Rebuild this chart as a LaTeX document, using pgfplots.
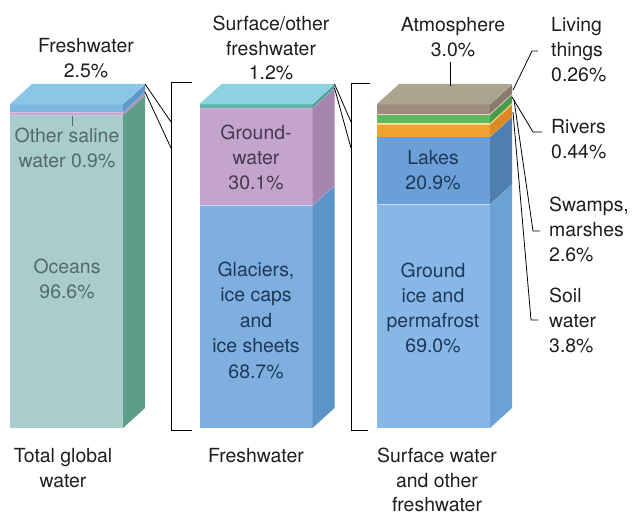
\documentclass[border=0pt]{standalone}
\usepackage{fontspec}
\setmainfont{TeX Gyre Heros}
\usepackage{pgfplots}
\pgfplotsset{compat=1.18}

% front / side colours of each layer
\definecolor{oceanF}{HTML}{A9CCCD}\definecolor{oceanS}{HTML}{5E9E88}
\definecolor{salineF}{HTML}{C9A8D4}\definecolor{salineS}{HTML}{A98DB8}
\definecolor{freshF}{HTML}{7AB6E0}\definecolor{freshS}{HTML}{5C9ACB}
\definecolor{top1}{HTML}{8CC6E6}
\definecolor{glacF}{HTML}{7EAFDF}\definecolor{glacS}{HTML}{5D94C8}
\definecolor{gwF}{HTML}{C3A4CD}\definecolor{gwS}{HTML}{A486B1}
\definecolor{surfF}{HTML}{5AB6AA}\definecolor{surfS}{HTML}{4A9F95}
\definecolor{top2}{HTML}{8DD2E2}
\definecolor{iceF}{HTML}{86B7E7}\definecolor{iceS}{HTML}{6AA2D8}
\definecolor{lakeF}{HTML}{6A9FD8}\definecolor{lakeS}{HTML}{4E7FAF}
\definecolor{soilF}{HTML}{EEA232}\definecolor{soilS}{HTML}{DE8A22}
\definecolor{rivF}{HTML}{F3EA70}\definecolor{rivS}{HTML}{D9CC52}
\definecolor{swampF}{HTML}{5DB85E}\definecolor{swampS}{HTML}{4A9A4B}
\definecolor{liveF}{HTML}{E2D4D2}\definecolor{liveS}{HTML}{C8B8B6}
\definecolor{atmoF}{HTML}{9E8C7E}\definecolor{atmoS}{HTML}{8B7A6C}
\definecolor{top3}{HTML}{ABA58F}
\definecolor{txt}{HTML}{1E1E1E}
\definecolor{txtOcean}{HTML}{55696B}
\definecolor{txtGw}{HTML}{46394F}
\definecolor{txtBlue}{HTML}{1E3858}

% geometry of the blocks (drawing units = px)
\newcommand\baseY{428}   % bottom of the front faces
\newcommand\unit{3.24}   % px per percent
\newcommand\barw{113}    % front width
\newcommand\dx{22}       % depth offset, x
\newcommand\dy{20}       % depth offset, y

\newcommand\startbar[1]{\gdef\cum{0}\gdef\barx{#1}}
% one stacked layer: value (percent), front colour, side colour
\newcommand\segment[3]{%
  \pgfmathsetmacro\ylo{\baseY-\unit*\cum}%
  \pgfmathsetmacro\newcum{\cum+#1}%
  \xdef\cum{\newcum}%
  \pgfmathsetmacro\yhi{\baseY-\unit*\cum}%
  \pgfmathsetmacro\xr{\barx+\barw}%
  \pgfmathsetmacro\xs{\xr+\dx}%
  \pgfmathsetmacro\ylob{\ylo-\dy}%
  \pgfmathsetmacro\yhib{\yhi-\dy}%
  \edef\tmp{%
    \noexpand\addplot[fill=#2,draw=none] coordinates {(\barx,\ylo) (\xr,\ylo) (\xr,\yhi) (\barx,\yhi)} -- cycle;
    \noexpand\addplot[fill=#3,draw=none] coordinates {(\xr,\ylo) (\xs,\ylob) (\xs,\yhib) (\xr,\yhi)} -- cycle;
    \noexpand\addplot[white,opacity=0.8,line width=0.4pt] coordinates {(\barx,\yhi) (\xr,\yhi) (\xs,\yhib)};
  }\tmp}
\newcommand\topface[1]{%
  \pgfmathsetmacro\yhi{\baseY-\unit*\cum}%
  \pgfmathsetmacro\yhib{\yhi-\dy}%
  \pgfmathsetmacro\xr{\barx+\barw}%
  \pgfmathsetmacro\xs{\xr+\dx}%
  \pgfmathsetmacro\xb{\barx+\dx}%
  \edef\tmp{%
    \noexpand\addplot[fill=#1,draw=none] coordinates {(\barx,\yhi) (\xr,\yhi) (\xs,\yhib) (\xb,\yhib)} -- cycle;
  }\tmp}

\tikzset{
  lab/.style={font=\fontsize{19.5}{24}\selectfont, inner sep=0pt, anchor=base, text=txt},
  labw/.style={lab, anchor=base west},
  lead/.style={black, line width=0.8pt},
}

\begin{document}
\begin{tikzpicture}
\begin{axis}[
  scale only axis, width=636bp, height=516bp,
  xmin=0, xmax=636, ymin=0, ymax=516, y dir=reverse,
  hide axis, clip=false,
]
\path (axis cs:0,0) (axis cs:636,516);

% Total global water
\startbar{10}
\segment{96.6}{oceanF}{oceanS}
\segment{0.9}{salineF}{salineS}
\segment{2.5}{freshF}{freshS}
\topface{top1}

% Freshwater
\startbar{199.5}
\segment{68.7}{glacF}{glacS}
\segment{30.1}{gwF}{gwS}
\segment{1.2}{surfF}{surfS}
\topface{top2}

% Surface water and other freshwater
\startbar{377}
\segment{69.0}{iceF}{iceS}
\segment{20.9}{lakeF}{lakeS}
\segment{3.8}{soilF}{soilS}
\segment{0.44}{rivF}{rivS}
\segment{2.6}{swampF}{swampS}
\segment{0.26}{liveF}{liveS}
\segment{3.0}{atmoF}{atmoS}
\topface{top3}

% brackets and connectors
\draw[lead] (axis cs:145,84) -- (axis cs:171,122);
\draw[lead] (axis cs:145,92) -- (axis cs:171,148);
\draw[lead,line width=1pt] (axis cs:192,82) -- (axis cs:171,82) -- (axis cs:171,430) -- (axis cs:192,430);
\draw[lead] (axis cs:334.5,84) -- (axis cs:351,122);
\draw[lead] (axis cs:334.5,88) -- (axis cs:351,148);
\draw[lead,line width=1pt] (axis cs:370,83) -- (axis cs:351,83) -- (axis cs:351,430) -- (axis cs:368,430);

% leader lines
\draw[lead] (axis cs:450,62) -- (axis cs:450,86);
\draw[lead] (axis cs:538,51) -- (axis cs:532,51) -- (axis cs:513,90);
\draw[lead] (axis cs:512,97) -- (axis cs:533,132) -- (axis cs:542,132);
\draw[lead] (axis cs:514,100) -- (axis cs:533,231) -- (axis cs:540,231);
\draw[lead] (axis cs:513,112) -- (axis cs:531,320) -- (axis cs:538,320);
\draw[txtOcean, line width=0.8pt] (axis cs:72,116) -- (axis cs:72,126);

% top labels
\node[lab] at (axis cs:86,53) {Freshwater};
\node[lab] at (axis cs:86,78) {2.5\%};
\node[lab] at (axis cs:271,31) {Surface/other};
\node[lab] at (axis cs:271,55.5) {freshwater};
\node[lab] at (axis cs:271,80) {1.2\%};
\node[lab] at (axis cs:453,32) {Atmosphere};
\node[lab] at (axis cs:453,57) {3.0\%};
\node[labw] at (axis cs:551,32) {Living};
\node[labw] at (axis cs:551,57) {things};
\node[labw] at (axis cs:551,82) {0.26\%};
\node[labw] at (axis cs:551,133) {Rivers};
\node[labw] at (axis cs:551,158) {0.44\%};
\node[labw] at (axis cs:549,211) {Swamps,};
\node[labw] at (axis cs:549,236) {marshes};
\node[labw] at (axis cs:549,261) {2.6\%};
\node[labw] at (axis cs:549,302) {Soil};
\node[labw] at (axis cs:549,327) {water};
\node[labw] at (axis cs:549,352) {3.8\%};

% labels inside the blocks
\node[lab,text=txtOcean] at (axis cs:67,142) {Other saline};
\node[lab,text=txtOcean] at (axis cs:67,167) {water 0.9\%};
\node[lab,text=txtOcean] at (axis cs:67,273) {Oceans};
\node[lab,text=txtOcean] at (axis cs:67,298) {96.6\%};
\node[lab,text=txtGw] at (axis cs:256,139) {Ground-};
\node[lab,text=txtGw] at (axis cs:256,164) {water};
\node[lab,text=txtGw] at (axis cs:256,189) {30.1\%};
\node[lab,text=txtBlue] at (axis cs:256,276) {Glaciers,};
\node[lab,text=txtBlue] at (axis cs:256,301.5) {ice caps};
\node[lab,text=txtBlue] at (axis cs:256,327) {and};
\node[lab,text=txtBlue] at (axis cs:256,352.5) {ice sheets};
\node[lab,text=txtBlue] at (axis cs:256,378) {68.7\%};
\node[lab,text=txtBlue] at (axis cs:433,164) {Lakes};
\node[lab,text=txtBlue] at (axis cs:433,189) {20.9\%};
\node[lab,text=txtBlue] at (axis cs:433,277) {Ground};
\node[lab,text=txtBlue] at (axis cs:433,302) {ice and};
\node[lab,text=txtBlue] at (axis cs:433,327) {permafrost};
\node[lab,text=txtBlue] at (axis cs:433,352) {69.0\%};

% bottom labels
\node[lab] at (axis cs:63,462) {Total global};
\node[lab] at (axis cs:63,487) {water};
\node[lab] at (axis cs:256,462) {Freshwater};
\node[lab] at (axis cs:437,462) {Surface water};
\node[lab] at (axis cs:437,487) {and other};
\node[lab] at (axis cs:437,511) {freshwater};
\end{axis}
\end{tikzpicture}
\end{document}
